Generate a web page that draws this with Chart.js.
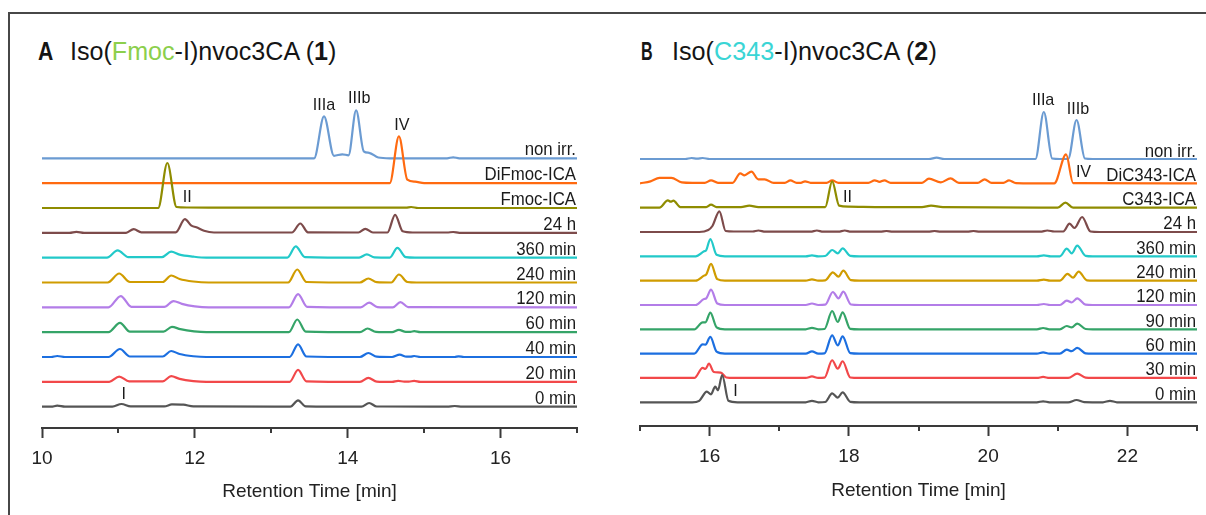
<!DOCTYPE html>
<html>
<head>
<meta charset="utf-8">
<script src="https://cdn.jsdelivr.net/npm/chart.js@4.4.1/dist/chart.umd.min.js"></script>
<style>
  html, body { margin: 0; padding: 0; background: #fff; }
  #wrap { position: relative; width: 1206px; height: 515px; overflow: hidden; background: #fff; }
  .rule-top { position: absolute; left: 8px; top: 12px; width: 1198px; height: 2px; background: #474747; }
  .rule-left { position: absolute; left: 8px; top: 12px; width: 2px; height: 503px; background: #474747; }
  .ttl { position: absolute; top: 38px; font-family: "Liberation Sans", Arial, sans-serif; font-size: 26.5px;
         line-height: 1; color: #151515; white-space: nowrap; transform-origin: 0 0; }
  .ttl.bold { font-weight: bold; }
  canvas { position: absolute; top: 0; }
</style>
</head>
<body>
<div id="wrap">
  <div class="rule-top"></div>
  <div class="rule-left"></div>

  <span class="ttl bold" data-w="15.3" style="left:38px">A</span>
  <span class="ttl" data-w="266.4" style="left:70px">Iso(<span style="color:#8ccf4c">Fmoc</span>-I)nvoc3CA (<b>1</b>)</span>

  <span class="ttl bold" data-w="11.6" style="left:640.6px">B</span>
  <span class="ttl" data-w="264.8" style="left:671.5px">Iso(<span style="color:#3ad5d5">C343</span>-I)nvoc3CA (<b>2</b>)</span>

  <canvas id="chartA" width="603" height="515" style="left:0px"></canvas>
  <canvas id="chartB" width="603" height="515" style="left:603px"></canvas>
</div>

<script>
// ---------- Panel A: Iso(Fmoc-I)nvoc3CA (1), retention time 10–17 min ----------
const rangeA = [10, 17];
const tickLabelsA = [10, 12, 14, 16];
const namesA = ['0 min', '20 min', '40 min', '60 min', '120 min', '240 min', '360 min', '24 h', 'Fmoc-ICA', 'DiFmoc-ICA', 'non irr.'];

// each trace: [retention time (min), absorbance above its own baseline (a.u.)]
const a_0min = [[10,0],[10.12,0],[10.2,1],[10.3,0],[10.92,0],[11.04,2.7],[11.16,0.3],[11.6,0.3],[11.7,2.3],[11.85,2],[11.98,0.3],[13.25,0],[13.35,6.3],[13.45,0.3],[14.18,0],[14.28,3.7],[14.38,0.2],[15.3,0],[15.4,0.7],[15.5,0],[17,0]];
const a_20min = [[10,0],[10.88,0],[11.01,5.3],[11.14,0.5],[11.58,0.5],[11.69,5.7],[11.8,3],[11.98,0.8],[12.15,0],[13.24,0],[13.35,12],[13.46,0.5],[14.16,0],[14.27,4],[14.38,0.3],[14.58,0],[14.66,1],[14.74,0.2],[14.8,0.2],[14.87,1],[14.95,0],[17,0]];
const a_40min = [[10,0],[10.12,0],[10.2,1],[10.3,0],[10.87,0],[11.02,8],[11.15,0.5],[11.58,0.5],[11.69,6],[11.8,3],[11.98,0.8],[12.15,0],[13.24,0],[13.35,12.7],[13.46,0.5],[14.16,0],[14.27,4],[14.38,0.3],[14.58,0],[14.68,2.3],[14.77,0.3],[14.82,0.3],[14.87,1],[14.95,0],[15.4,0],[15.45,0.7],[15.52,0],[17,0]];
const a_60min = [[10,0],[10.87,0],[11.02,9.3],[11.15,0.5],[11.59,0.5],[11.7,5.3],[11.81,3],[11.99,0.8],[12.15,0],[13.23,0],[13.34,12.7],[13.45,0.5],[14.16,0],[14.26,3.7],[14.37,0.3],[14.58,0],[14.67,2.3],[14.76,0.3],[14.82,0.3],[14.87,1],[14.95,0],[17,0]];
const a_120min = [[10,0],[10.87,0],[11.03,11.3],[11.17,0.5],[11.6,0.5],[11.72,6.3],[11.83,3.5],[12.0,1],[12.18,0],[13.23,0],[13.35,13.3],[13.47,0.5],[14.17,0],[14.28,4.7],[14.39,0.3],[14.59,0],[14.69,5.3],[14.79,0.3],[17,0]];
const a_240min = [[10,0],[10.86,0],[11.01,9],[11.15,0.5],[11.58,0.5],[11.69,7],[11.8,3.5],[11.98,1],[12.18,0],[13.22,0],[13.34,13],[13.46,0.5],[14.16,0],[14.27,4],[14.38,0.3],[14.57,0],[14.67,8],[14.78,0.5],[14.9,0],[17,0]];
const a_360min = [[10,0],[10.85,0],[10.99,7.3],[11.13,0.5],[11.57,0.5],[11.69,6],[11.8,3],[11.98,1],[12.15,0],[13.21,0],[13.32,11.3],[13.44,0.5],[14.15,0],[14.25,3.3],[14.35,0.2],[14.55,0],[14.65,9.7],[14.76,0.5],[14.88,0],[17,0]];
const a_24h = [[10,0],[10.36,0],[10.45,1],[10.55,0],[11.1,0],[11.2,3.7],[11.3,0.5],[11.75,0.5],[11.87,13.7],[11.95,7.5],[12.02,5.5],[12.12,2],[12.25,0.3],[13.27,0.3],[13.38,9.3],[13.48,0.5],[14.14,0.3],[14.23,4],[14.33,0.3],[14.52,0.3],[14.62,18],[14.72,1.5],[14.85,0.3],[15.3,0.3],[15.38,0.8],[15.46,0],[17,0]];
const a_fmocIca = [[10,0],[11.52,0],[11.64,45],[11.76,1],[11.9,0.5],[12.5,0.3],[14.76,0.3],[14.83,1],[14.92,0],[17,0]];
const a_difmocIca = [[10,0],[14.55,0],[14.67,46.7],[14.78,3.5],[14.88,1.5],[15.0,0],[17,0]];
const a_nonIrr = [[10,0],[13.56,0],[13.69,42],[13.82,2.5],[13.93,4],[14.01,3],[14.11,48],[14.21,7],[14.28,5.5],[14.4,0.8],[14.55,0],[15.3,0],[15.38,1],[15.46,0],[17,0]];

// peak tags: [text, retention time, trace index, height above that baseline]
const tagsA = [['IIIa', 13.69, 10, 53.3], ['IIIb', 14.15, 10, 60], ['IV', 14.71, 9, 57.7], ['II', 11.9, 8, 10.7], ['I', 11.07, 0, 12.7]];

// ---------- Panel B: Iso(C343-I)nvoc3CA (2), retention time 15–23 min ----------
const rangeB = [15, 23];
const tickLabelsB = [16, 18, 20, 22];
const namesB = ['0 min', '30 min', '60 min', '90 min', '120 min', '240 min', '360 min', '24 h', 'C343-ICA', 'DiC343-ICA', 'non irr.'];

const b_0min = [[15,0],[15.75,0],[15.85,1.5],[15.96,10.7],[16.02,8],[16.08,15.7],[16.12,12],[16.18,27.3],[16.27,1.5],[16.4,0],[17.38,0],[17.47,1.5],[17.56,0],[17.66,0.3],[17.76,9],[17.84,4.7],[17.91,10],[18.02,0.5],[18.15,0],[20.7,0],[20.79,1],[20.88,0],[21.15,0],[21.27,2.3],[21.38,0.2],[21.65,0],[21.75,1.5],[21.85,0],[23,0]];
const b_30min = [[15,0],[15.78,0],[15.9,10],[15.94,9],[15.99,14.3],[16.06,6],[16.16,5.3],[16.24,0.5],[16.35,0],[17.38,0],[17.47,1.5],[17.56,0],[17.65,0.3],[17.76,17.7],[17.84,9.3],[17.91,16.7],[18.02,0.5],[18.15,0],[20.7,0],[20.79,1],[20.88,0],[21.15,0],[21.28,4.3],[21.4,0.3],[21.5,0],[23,0]];
const b_60min = [[15,0],[15.78,0],[15.9,9.3],[15.94,9],[16.01,16.7],[16.1,2],[16.22,0],[17.38,0],[17.47,2.3],[17.56,0],[17.65,0.3],[17.76,18.3],[17.84,8.3],[17.91,17.3],[18.02,0.5],[18.15,0],[20.7,0],[20.79,1.3],[20.88,0],[21.03,0],[21.13,4],[21.2,2.5],[21.28,5.7],[21.4,0.3],[21.5,0],[23,0]];
const b_90min = [[15,0],[15.78,0],[15.9,7],[15.94,7],[16.01,16.7],[16.1,2],[16.22,0],[17.38,0],[17.47,1.5],[17.56,0],[17.65,0.3],[17.76,18.3],[17.84,7.3],[17.91,17],[18.02,0.5],[18.15,0],[20.7,0],[20.79,1.3],[20.88,0],[21.03,0],[21.13,3.3],[21.2,2],[21.28,5.7],[21.4,0.3],[21.5,0],[23,0]];
const b_120min = [[15,0],[15.8,0],[15.92,6],[15.95,6.5],[16.02,15.3],[16.11,1.5],[16.22,0],[17.38,0],[17.47,1.5],[17.56,0],[17.66,0.3],[17.77,13],[17.85,6.7],[17.92,13.3],[18.03,0.5],[18.15,0],[20.7,0],[20.8,1],[20.89,0],[21.03,0],[21.13,4.3],[21.2,2.5],[21.28,6.7],[21.4,0.3],[21.5,0],[23,0]];
const b_240min = [[15,0],[15.8,0],[15.92,5],[15.95,6],[16.02,16.7],[16.11,1.5],[16.22,0],[17.38,0],[17.47,1.3],[17.56,0],[17.66,0.3],[17.77,8.3],[17.85,4],[17.92,10],[18.03,0.5],[18.15,0],[20.7,0],[20.8,1],[20.89,0],[21.03,0],[21.14,6.7],[21.22,3],[21.3,9],[21.42,0.3],[21.52,0],[23,0]];
const b_360min = [[15,0],[15.8,0],[15.92,5],[15.95,6],[16.01,17.3],[16.1,1.5],[16.22,0],[17.38,0],[17.47,1],[17.56,0],[17.66,0.3],[17.76,6.3],[17.84,3],[17.91,8],[18.02,0.5],[18.15,0],[20.7,0],[20.8,1],[20.9,0],[21.03,0],[21.13,7.7],[21.2,3],[21.28,10.7],[21.4,0.5],[21.5,0],[23,0]];
const b_24h = [[15,0],[15.85,0],[15.98,2],[16.04,6],[16.14,20.7],[16.23,1],[16.35,0.5],[16.62,0.5],[16.7,1.5],[16.8,0.3],[17.45,0.3],[17.54,1.5],[17.63,0.3],[17.85,0.3],[17.94,1.5],[18.03,0.3],[18.45,0.3],[18.54,1],[18.63,0.3],[19.14,0.3],[19.23,1],[19.32,0.3],[19.7,0.3],[19.79,1],[19.88,0.3],[20.75,0.3],[20.85,1.5],[20.95,0.5],[21.08,0.5],[21.17,8.3],[21.24,4],[21.35,15],[21.47,0.5],[21.6,0],[23,0]];
const b_c343Ica = [[15,0],[15.28,0],[15.4,7.3],[15.44,6],[15.48,7],[15.58,0.5],[15.95,0.5],[16.02,3],[16.1,0.5],[16.45,0.5],[16.57,2],[16.7,0.5],[17.66,0.5],[17.76,26.3],[17.86,2],[18.0,1],[18.5,0.5],[19.05,0.5],[19.18,2],[19.35,0.5],[21.0,0],[21.11,5],[21.22,0],[23,0]];
const b_dic343Ica = [[15,0],[15.15,2],[15.28,5.5],[15.45,5.5],[15.6,1],[15.75,0.5],[15.93,0.5],[16.02,3],[16.12,0.5],[16.33,0.5],[16.44,10],[16.5,8],[16.6,11.7],[16.7,4],[16.79,4],[16.92,0.5],[17.08,0.5],[17.16,3],[17.25,0.5],[17.31,0.5],[17.37,2],[17.45,0.5],[17.68,0.5],[17.76,3],[17.85,0.5],[18.28,0.5],[18.37,3],[18.44,1.5],[18.51,3],[18.6,0.5],[19.05,0.5],[19.15,4.7],[19.32,1],[19.46,5],[19.58,0.5],[19.85,0.5],[19.95,4],[20.05,0.5],[20.22,0.5],[20.3,3],[20.4,0.3],[20.95,0],[21.12,29],[21.22,0.3],[23,0]];
const b_nonIrr = [[15,0],[15.65,0],[15.74,1],[15.82,0.3],[15.9,1],[16.0,0],[19.15,0],[19.26,1.3],[19.37,0],[20.68,0],[20.8,47],[20.92,0.5],[21.03,0],[21.15,0],[21.27,39],[21.39,0.5],[21.5,0],[23,0]];

const tagsB = [['IIIa', 20.79, 10, 59], ['IIIb', 21.29, 10, 50], ['IV', 21.37, 9, 10.6], ['II', 17.98, 8, 10.6], ['I', 16.37, 0, 10.6]];

// trace colours, bottom (0 min) to top (non irr.)
const traceColors = ['#555555', '#f2484a', '#1c6fe0', '#35a468', '#b37de8', '#d09c00', '#22c9c9', '#7d4b4b', '#8f8c00', '#ff6a10', '#6b9bd2'];

const FONT = '"Liberation Sans", Arial, sans-serif';
const AXIS = '#3a3a3a';
const TEXT = '#1b1b1b';

// size the titles to their set widths
document.querySelectorAll('.ttl').forEach(el => {
  const w = el.getBoundingClientRect().width;
  el.style.transform = 'scaleX(' + (parseFloat(el.dataset.w) / w) + ')';
});

// minor ticks, trace names and peak tags
const annotations = {
  id: 'annotations',
  afterDraw(chart, args, opts) {
    const { ctx, chartArea: ca, scales: { x, y } } = chart;
    ctx.save();
    ctx.strokeStyle = AXIS;
    ctx.lineWidth = 2;
    for (let v = Math.ceil(x.min); v <= x.max; v++) {
      if (opts.tickLabels.includes(v)) continue;
      const px = Math.round(x.getPixelForValue(v));
      ctx.beginPath();
      ctx.moveTo(px, ca.bottom);
      ctx.lineTo(px, ca.bottom + 5);
      ctx.stroke();
    }
    ctx.fillStyle = TEXT;
    ctx.font = '17.5px ' + FONT;
    opts.names.forEach((n, i) => {
      const yy = y.getPixelForValue(opts.base0 + opts.step * i) - opts.nameLift;
      ctx.save();
      ctx.translate(ca.right - 1, yy);
      ctx.scale(0.96, 1);
      ctx.textAlign = 'right';
      ctx.textBaseline = 'alphabetic';
      ctx.fillText(n, 0, 0);
      ctx.restore();
    });
    ctx.font = '17px ' + FONT;
    opts.tags.forEach(([txt, t, idx, h]) => {
      ctx.save();
      ctx.translate(x.getPixelForValue(t), y.getPixelForValue(opts.base0 + opts.step * idx + h));
      ctx.scale(0.95, 1);
      ctx.textAlign = 'center';
      ctx.textBaseline = 'middle';
      ctx.fillText(txt, 0, 0);
      ctx.restore();
    });
    ctx.restore();
  }
};

function panel(id, p) {
  const datasets = p.traces.map((pts, i) => ({
    label: p.names[i],
    data: pts.map(([t, h]) => ({ x: t, y: p.base0 + p.step * i + h })),
    borderColor: traceColors[i],
    borderWidth: 2.2,
    pointRadius: 0,
    fill: false,
    cubicInterpolationMode: 'monotone'
  }));
  return new Chart(document.getElementById(id), {
    type: 'line',
    data: { datasets },
    plugins: [annotations],
    options: {
      responsive: false,
      animation: false,
      events: [],
      layout: { padding: { left: p.padL, right: p.padR, top: 70, bottom: 0 } },
      plugins: {
        legend: { display: false },
        tooltip: { enabled: false },
        annotations: { names: p.names, tags: p.tags, tickLabels: p.tickLabels, base0: p.base0, step: p.step, nameLift: p.nameLift }
      },
      scales: {
        x: {
          type: 'linear',
          min: p.range[0],
          max: p.range[1],
          afterFit(scale) { scale.paddingLeft = 0; scale.paddingRight = 0; scale.height = p.axisH; },
          border: { display: true, color: AXIS, width: 2 },
          grid: {
            display: true,
            drawOnChartArea: false,
            drawTicks: true,
            tickLength: 10,
            tickWidth: 2,
            tickColor: c => p.tickLabels.includes(c.tick && c.tick.value) ? AXIS : 'rgba(0,0,0,0)'
          },
          ticks: {
            stepSize: 1,
            autoSkip: false,
            maxRotation: 0,
            padding: 9,
            color: '#222',
            font: { family: FONT, size: 19 },
            callback: v => p.tickLabels.includes(v) ? String(v) : ''
          },
          title: {
            display: true,
            text: 'Retention Time [min]',
            color: '#222',
            font: { family: FONT, size: 19 },
            padding: { top: 0, bottom: p.titlePad }
          }
        },
        y: { display: false, min: 0, max: p.yMax }
      }
    }
  });
}

panel('chartA', {
  range: rangeA, tickLabels: tickLabelsA, names: namesA, tags: tagsA,
  traces: [a_0min, a_20min, a_40min, a_60min, a_120min, a_240min, a_360min, a_24h, a_fmocIca, a_difmocIca, a_nonIrr],
  base0: 21.3, step: 24.84, yMax: 358, padL: 42, padR: 26, axisH: 87, titlePad: 11.6, nameLift: 3
});

panel('chartB', {
  range: rangeB, tickLabels: tickLabelsB, names: namesB, tags: tagsB,
  traces: [b_0min, b_30min, b_60min, b_90min, b_120min, b_240min, b_360min, b_24h, b_c343Ica, b_dic343Ica, b_nonIrr],
  base0: 23.7, step: 24.33, yMax: 356, padL: 37, padR: 9, axisH: 89, titlePad: 12.6, nameLift: 2.5
});
</script>
</body>
</html>
